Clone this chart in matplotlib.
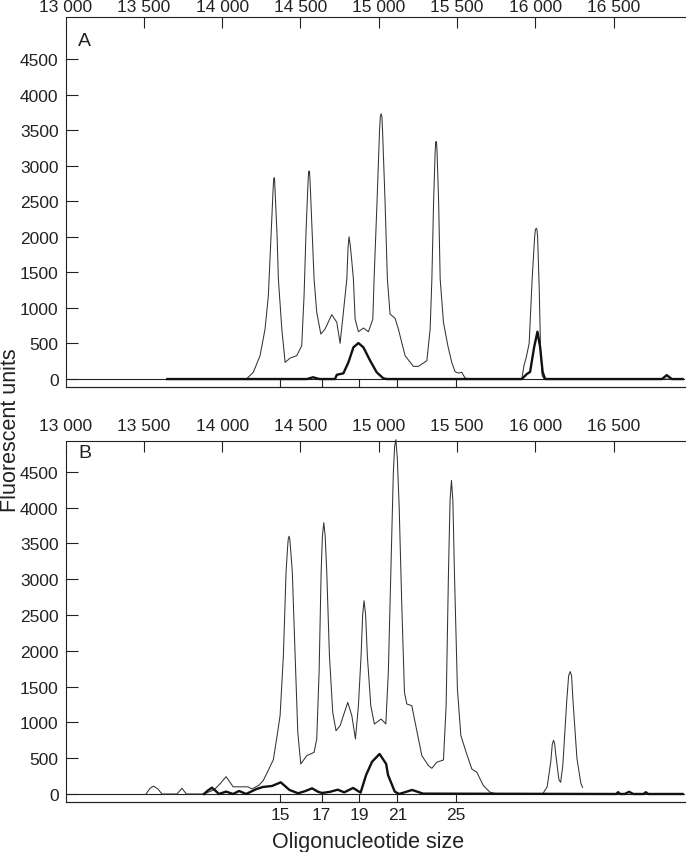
import matplotlib
matplotlib.use("Agg")
import matplotlib.pyplot as plt

plt.rcParams['font.family'] = ['Liberation Sans', 'DejaVu Sans']

# top axis (scan units) and bottom axis (oligonucleotide size markers)
scan_ticks = [13000, 13500, 14000, 14500, 15000, 15500, 16000, 16500]
scan_labels = ["13 000", "13 500", "14 000", "14 500", "15 000", "15 500", "16 000", "16 500"]
size_pos = [14370, 14636, 14876, 15119, 15492]
size_labels = ["15", "17", "19", "21", "25"]
y_ticks = [0, 500, 1000, 1500, 2000, 2500, 3000, 3500, 4000, 4500]

# panel A, thin trace
scan_a_thin = [13650, 14110, 14157, 14199, 14242, 14274, 14295, 14312, 14325, 14329,
               14332, 14335, 14338, 14351, 14359, 14381, 14402, 14434, 14476, 14508,
               14523, 14536, 14549, 14552, 14555, 14558, 14561, 14574, 14587, 14604,
               14630, 14657, 14700, 14732, 14753, 14774, 14796, 14804, 14810, 14817,
               14826, 14838, 14849, 14870, 14902, 14934, 14962, 14970, 14989, 15005,
               15010, 15015, 15020, 15024, 15040, 15055, 15072, 15104, 15125, 15168,
               15221, 15253, 15307, 15328, 15339, 15350, 15360, 15363, 15366, 15369,
               15372, 15382, 15392, 15413, 15441, 15466, 15487, 15508, 15530, 15551,
               15583, 15913, 15928, 15941, 15960, 15979, 15995, 16000, 16005, 16010,
               16014, 16024, 16033, 16043, 16056, 16940]
thin_a = [0, 0, 5, 94, 328, 703, 1171, 2000, 2650, 2800,
          2830, 2800, 2650, 2000, 1406, 703, 234, 295, 328, 468,
          1171, 2100, 2800, 2900, 2925, 2900, 2800, 2100, 1406, 937,
          633, 703, 905, 797, 502, 937, 1406, 1850, 2000, 1900,
          1700, 1406, 843, 665, 717, 665, 843, 1406, 2500, 3500,
          3690, 3730, 3690, 3500, 2500, 1406, 914, 853, 703, 328,
          178, 178, 258, 703, 1406, 2500, 3200, 3310, 3340, 3310,
          3200, 2500, 1406, 797, 468, 234, 103, 84, 94, 14,
          0, 0, 200, 300, 500, 1400, 2000, 2100, 2120, 2100,
          2000, 1300, 400, 50, 0, 0]

# panel A, thick trace
scan_a_thick = [13650, 14542, 14580, 14620, 14721, 14732, 14774, 14806, 14838, 14870,
                14902, 14945, 14987, 15029, 15051, 15913, 15945, 15966, 15992, 16013,
                16030, 16046, 16062, 16809, 16838, 16871, 16940]
thick_a = [0, 0, 25, 0, 0, 60, 80, 234, 445, 506,
           445, 258, 94, 10, 0, 0, 70, 100, 450, 665,
           450, 100, 0, 0, 55, 0, 0]

# panel B, thin trace
scan_b_thin = [13514, 13540, 13562, 13590, 13616, 13712, 13743, 13772, 13884, 13950,
               13990, 14025, 14055, 14070, 14120, 14165, 14191, 14236, 14263, 14290,
               14327, 14350, 14370, 14391, 14408, 14418, 14422, 14427, 14432, 14436,
               14448, 14466, 14483, 14502, 14540, 14587, 14604, 14619, 14632, 14640,
               14649, 14658, 14668, 14685, 14706, 14727, 14753, 14802, 14828, 14851,
               14870, 14887, 14897, 14906, 14916, 14927, 14949, 14972, 15015, 15045,
               15061, 15077, 15093, 15101, 15109, 15118, 15130, 15147, 15164, 15179,
               15211, 15232, 15275, 15317, 15339, 15370, 15413, 15430, 15445, 15455,
               15464, 15473, 15483, 15502, 15524, 15558, 15594, 15626, 15668, 15711,
               15754, 16046, 16075, 16098, 16108, 16116, 16123, 16130, 16150, 16161,
               16175, 16200, 16212, 16222, 16231, 16240, 16265, 16290, 16301]
thin_b = [0, 80, 110, 70, 0, 0, 80, 0, 0, 60,
          150, 242, 150, 100, 100, 100, 70, 125, 190, 310,
          480, 800, 1094, 1932, 3100, 3450, 3560, 3600, 3560, 3450,
          3100, 1932, 861, 419, 535, 582, 768, 1700, 3096, 3600,
          3790, 3600, 3096, 1932, 1141, 884, 954, 1280, 1094, 768,
          1233, 1932, 2500, 2700, 2500, 1932, 1233, 978, 1047, 978,
          1700, 3096, 4493, 4850, 4950, 4700, 4026, 2630, 1420, 1257,
          1233, 1001, 535, 396, 359, 443, 475, 1233, 3096, 4100,
          4380, 4100, 3096, 1466, 815, 582, 349, 303, 116, 23,
          0, 0, 100, 450, 700, 750, 700, 550, 200, 163,
          400, 1300, 1650, 1710, 1650, 1300, 500, 150, 93]

# panel B, thick trace
scan_b_thick = [13884, 13910, 13935, 13960, 13980, 14025, 14070, 14108, 14153, 14220,
                14261, 14319, 14374, 14430, 14485, 14530, 14574, 14613, 14638, 14689,
                14738, 14779, 14836, 14884, 14919, 14957, 15005, 15047, 15059, 15102,
                15130, 15213, 15283, 16515, 16528, 16541, 16570, 16598, 16625, 16690,
                16705, 16720, 16940]
thick_b = [0, 50, 88, 40, 0, 33, 0, 42, 0, 70,
           98, 112, 163, 56, 10, 40, 79, 30, 14, 30,
           60, 23, 84, 19, 265, 450, 559, 420, 265, 33,
           0, 56, 5, 0, 25, 0, 0, 30, 0, 0,
           25, 0, 0]

W, H = 688, 853
fig = plt.figure(figsize=(W / 100, H / 100), dpi=100)
axA = fig.add_axes([65.5 / W, 1 - 388 / H, 619.5 / W, 370 / H])
axB = fig.add_axes([65.5 / W, 1 - 803 / H, 619.5 / W, 361 / H])


def style_panel(ax, ytop, spine_top, label_pad, show_sizes):
    ax.set_xlim(13000, 16955)
    ax.set_ylim(-112, ytop)
    ax.spines['right'].set_visible(False)
    ax.spines['left'].set_bounds(-112, spine_top)
    for s in ax.spines.values():
        s.set_linewidth(0.8)
        s.set_color('#222222')
    ax.axhline(0, color='#222222', lw=0.8, zorder=1)

    ax.xaxis.tick_top()
    ax.set_xticks(scan_ticks, scan_labels)
    ax.tick_params(axis='x', direction='in', length=8, width=0.8,
                   labelsize=12.5, pad=label_pad, colors='#222222')
    ax.set_yticks(y_ticks)
    ax.tick_params(axis='y', direction='in', length=8.5, width=0.8,
                   labelsize=12.5, pad=5, colors='#222222')

    sec = ax.secondary_xaxis('bottom')
    sec.set_xticks(size_pos, size_labels if show_sizes else [""] * len(size_pos))
    sec.tick_params(direction='in', length=5.8, width=0.8, labelsize=12.5,
                    pad=3.5, colors='#222222')
    sec.spines['bottom'].set_linewidth(0.8)


style_panel(axA, 5090, 4937, 2, False)
style_panel(axB, 4931, 4790, 6, True)

axA.plot(scan_a_thin, thin_a, color='#333333', lw=0.75)
axA.plot(scan_a_thick, thick_a, color='#111111', lw=1.7)
axB.plot(scan_b_thin, thin_b, color='#333333', lw=0.75, clip_on=False)
axB.plot(scan_b_thick, thick_b, color='#111111', lw=1.7)

fig.text(78 / W, 1 - 41 / H, "A", fontsize=14, va='center', color='#222222')
fig.text(78 / W, 1 - 454 / H, "B", fontsize=14, va='center', color='#222222')
fig.text(11 / W, 1 - 430 / H, "Fluorescent units", rotation=90, fontsize=15.5,
         ha='center', va='center', color='#222222')
fig.text(368 / W, 1 - 843 / H, "Oligonucleotide size", fontsize=15.5,
         ha='center', va='center', color='#222222')

fig.savefig("out.png", dpi=100)
